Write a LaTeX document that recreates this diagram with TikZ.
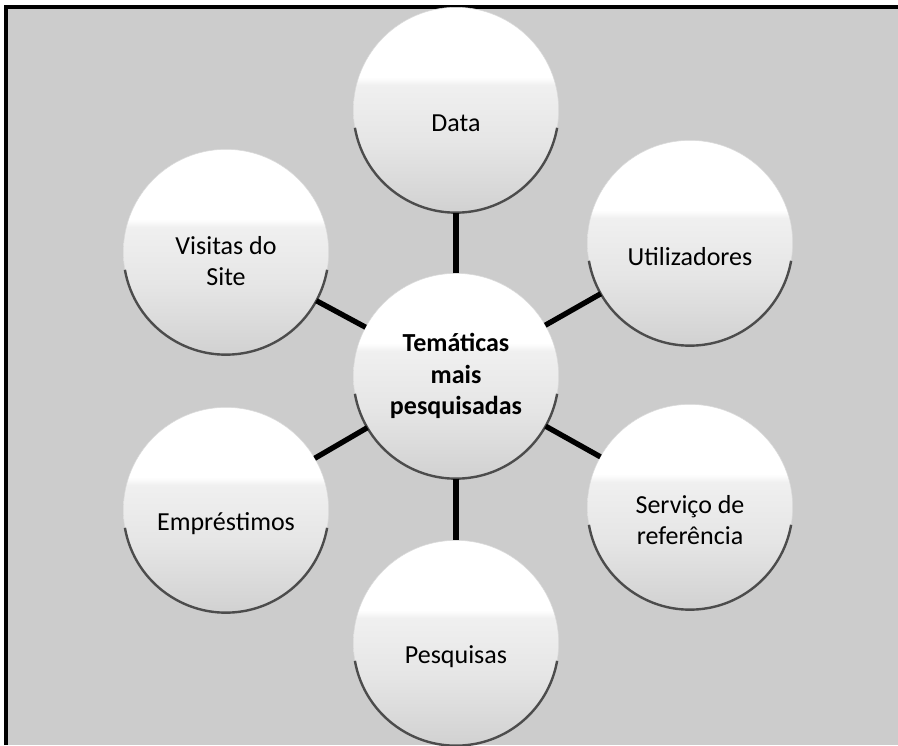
\documentclass[tikz,border=0pt]{standalone}
\usepackage{fontspec}
\setmainfont{Carlito}
\usetikzlibrary{calc}

% glossy button: white cap, light grey lower part
\pgfdeclareverticalshading{bubble}{100bp}{color(0bp)=(black!20); color(25bp)=(black!18);
  color(42bp)=(black!10); color(56bp)=(black!6); color(58bp)=(white); color(100bp)=(white)}

\tikzset{
  bubble/.style={circle, minimum size=154pt, inner sep=0pt, outer sep=0pt,
    shading=bubble, draw=black!15, thin},
  rim/.style={black!70, line width=1.8pt},
  link/.style={line width=4pt, black},
  caption/.style={font=\fontsize{19.5}{23.5}\selectfont, align=center, yshift=-10pt},
}

\begin{document}
\begin{tikzpicture}[x=0.75pt, y=0.75pt]
  \useasboundingbox (0,0) rectangle (898,745);
  % paper and frame (only top and left edges show)
  \fill[black!20] (6,0) rectangle (898,738);
  \draw[line width=3pt] (6,0) -- (6,738) -- (898,738);

  % bubbles
  \node[bubble] (hub) at (456,369) {};
  \node[bubble] (data) at (456,635) {};
  \node[bubble] (util) at (690,502) {};
  \node[bubble] (serv) at (690,238) {};
  \node[bubble] (pesq) at (456,102) {};
  \node[bubble] (empr) at (226,235) {};
  \node[bubble] (visit) at (226,493) {};

  % darker lower rims
  \foreach \n in {hub,data,util,serv,pesq,empr,visit}
    \draw[rim] (\n.190) arc[start angle=190, end angle=350, radius=77pt];

  % spokes
  \foreach \n in {data,util,serv,pesq,empr,visit}
    \draw[link] (hub) -- (\n);

  % texts
  \node[caption, yshift=10pt, font=\fontsize{19.5}{23.5}\selectfont\bfseries] (hub-t) at (hub) {Temáticas\\mais\\pesquisadas};
  \node[caption] (data-t) at (data) {Data};
  \node[caption] (util-t) at (util) {Utilizadores};
  \node[caption] (serv-t) at (serv) {Serviço de\\referência};
  \node[caption] (pesq-t) at (pesq) {Pesquisas};
  \node[caption] (empr-t) at (empr) {Empréstimos};
  \node[caption, yshift=3pt] (visit-t) at (visit) {Visitas do\\Site};
\end{tikzpicture}
\end{document}
